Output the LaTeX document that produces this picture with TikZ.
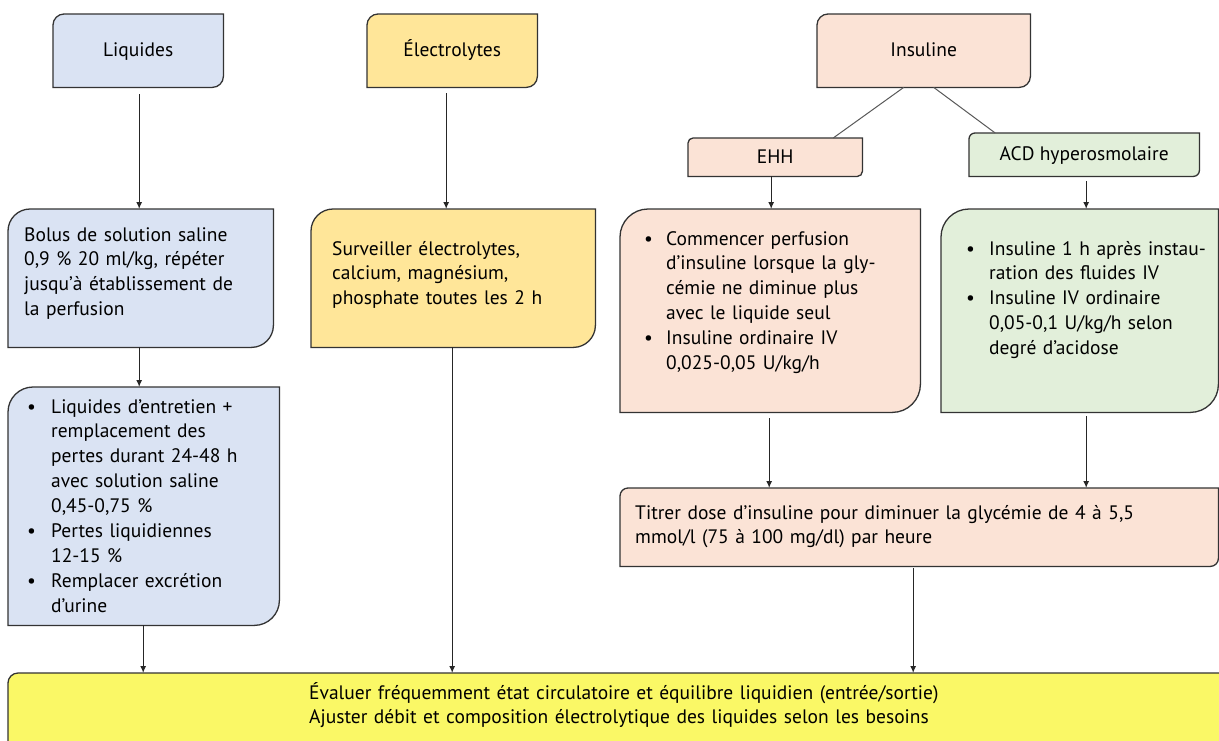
\documentclass[tikz,border=0pt]{standalone}
\usepackage{fontspec}
\setmainfont{PT Sans}
\usetikzlibrary{calc,arrows.meta,backgrounds}
\definecolor{cblue}{HTML}{DAE3F3}
\definecolor{cyel}{HTML}{FFE699}
\definecolor{cpink}{HTML}{FBE3D6}
\definecolor{cgreen}{HTML}{E2EFDA}
\definecolor{ceval}{HTML}{FAF866}
\definecolor{cline}{HTML}{333333}
\newcommand{\bodyfont}{\fontsize{19.5}{24.9}\selectfont}
\newcommand{\itm}[2]{\makebox[#1][l]{\textbullet}\parbox[t]{240pt}{\raggedright #2\strut}\par\prevdepth=\dp\strutbox}
\newcommand{\tlbrbox}[3]{%
  \path[boxline, fill=#3] (#1.south west) -- ($(#1.north west)+(0,#2)$)
    .. controls ($(#1.north west)+(0,0.45*#2)$) and ($(#1.north west)+(0.45*#2,0)$) .. ($(#1.north west)+(#2,0)$)
    -- (#1.north east) -- ($(#1.south east)+(0,-#2)$)
    .. controls ($(#1.south east)+(0,-0.45*#2)$) and ($(#1.south east)+(-0.45*#2,0)$) .. ($(#1.south east)+(-#2,0)$)
    -- cycle;}
\tikzset{
  bx/.style={anchor=north west, inner sep=0pt, draw=none, font=\bodyfont, text=black, text height=16pt, text depth=4pt},
  boxline/.style={draw=cline, line width=1.3pt},
  txt/.style={anchor=base west, inner sep=0pt, text width=#1, align=left, font=\bodyfont},
  arr/.style={draw=black!85, line width=1.3pt, -{Latex[length=7pt,width=6pt]}},
  link/.style={draw=black!65, line width=1pt}
}
\begin{document}
\begin{tikzpicture}[x=1pt,y=-1pt]
\useasboundingbox (0,0) rectangle (1219,740);
% boxes
\node[bx, minimum width=170pt, minimum height=73pt] (liq) at (53,14) {Liquides};
\node[bx, minimum width=170pt, minimum height=73pt] (elec) at (367,14) {Électrolytes};
\node[bx, minimum width=213pt, minimum height=73pt] (ins) at (817,14) {Insuline};
\node[bx, minimum width=174pt, minimum height=38pt] (ehh) at (688,138) {EHH};
\node[bx, minimum width=230pt, minimum height=43pt] (acd) at (969,133) {ACD hyperosmolaire};
\node[bx, minimum width=265pt, minimum height=138pt] (bolus) at (8,209) {};
\node[bx, minimum width=284pt, minimum height=138pt] (surv) at (311,209) {};
\node[bx, minimum width=300pt, minimum height=203pt] (ehhc) at (620,209) {};
\node[bx, minimum width=277pt, minimum height=203pt] (acdc) at (941,209) {};
\node[bx, minimum width=271pt, minimum height=238pt] (liq2) at (8,387) {};
\node[bx, minimum width=598pt, minimum height=78pt] (tit) at (620,488) {};
\node[bx, minimum width=1230pt, minimum height=90pt] (eval) at (8,673) {};
\begin{scope}[on background layer]
  \fill[white] (0,0) rectangle (1219,740);
  \tlbrbox{liq}{11}{cblue}
  \tlbrbox{elec}{11}{cyel}
  \tlbrbox{ins}{11}{cpink}
  \tlbrbox{ehh}{5}{cpink}
  \tlbrbox{acd}{6}{cgreen}
  \tlbrbox{bolus}{22}{cblue}
  \tlbrbox{surv}{22}{cyel}
  \tlbrbox{ehhc}{28}{cpink}
  \tlbrbox{acdc}{28}{cgreen}
  \tlbrbox{liq2}{25}{cblue}
  \tlbrbox{tit}{8}{cpink}
  \tlbrbox{eval}{10}{ceval}
\end{scope}
% texts
\node[txt=250pt] (bolus-t) at (24,241) {Bolus de solution saline\\0,9 \% 20 ml/kg, répéter\\jusqu’à établissement de\\la perfusion};
\node[txt=260pt] (surv-t) at (332,255) {Surveiller électrolytes,\\calcium, magnésium,\\phosphate toutes les 2 h};
\node[txt=260pt] (liq2-t) at (27,413) {%
  \itm{24pt}{Liquides d’entretien +\\remplacement des\\pertes durant 24-48 h\\avec solution saline\\0,45-0,75 \%}%
  \itm{24pt}{Pertes liquidiennes\\12-15 \%}%
  \itm{24pt}{Remplacer excrétion\\d’urine}};
\node[txt=280pt] (ehhc-t) at (644,245) {%
  \itm{22pt}{Commencer perfusion\\d’insuline lorsque la gly-\\cémie ne diminue plus\\avec le liquide seul}%
  \itm{22pt}{Insuline ordinaire IV\\0,025-0,05 U/kg/h}};
\node[txt=270pt] (acdc-t) at (966,255) {%
  \itm{23pt}{Insuline 1 h après instau-\\ration des fluides IV}%
  \itm{23pt}{Insuline IV ordinaire\\0,05-0,1 U/kg/h selon\\degré d’acidose}};
\node[txt=580pt] (tit-t) at (635,519) {Titrer dose d’insuline pour diminuer la glycémie de 4 à 5,5\\mmol/l (75 à 100 mg/dl) par heure};
\node[txt=900pt] (eval-t) at (309,699) {Évaluer fréquemment état circulatoire et équilibre liquidien (entrée/sortie)\\Ajuster débit et composition électrolytique des liquides selon les besoins};
% connectors
\draw[link] ($(ins.south)+(-20,0)$) -- ($(ehh.north)+(58,0)$);
\draw[link] ($(ins.south)+(10,0)$) -- ($(acd.north)+(-89,0)$);
\coordinate (a1) at ($(liq.south)+(1,7)$);
\coordinate (a2) at ($(elec.south)+(-6,6)$);
\coordinate (a3) at ($(ehh.south)+(-4,0)$);
\coordinate (a4) at ($(acd.south)+(2,5)$);
\coordinate (a5) at ($(bolus.south)+(-1.5,0)$);
\coordinate (a6) at ($(ehhc.south)+(-1,6)$);
\coordinate (a7) at ($(acdc.south)+(6.5,4)$);
\coordinate (a8) at ($(liq2.south)+(-0.5,0)$);
\coordinate (a9) at ($(surv.south)+(-1,0)$);
\coordinate (a10) at ($(tit.south)+(-6,2)$);
\draw[arr] (a1) -- (a1 |- bolus.north);
\draw[arr] (a2) -- (a2 |- surv.north);
\draw[arr] (a3) -- (a3 |- ehhc.north);
\draw[arr] (a4) -- (a4 |- acdc.north);
\draw[arr] (a5) -- (a5 |- liq2.north);
\draw[arr] (a6) -- (a6 |- tit.north);
\draw[arr] (a7) -- (a7 |- tit.north);
\draw[arr] (a8) -- (a8 |- eval.north);
\draw[arr] (a9) -- (a9 |- eval.north);
\draw[arr] (a10) -- (a10 |- eval.north);
\end{tikzpicture}
\end{document}
